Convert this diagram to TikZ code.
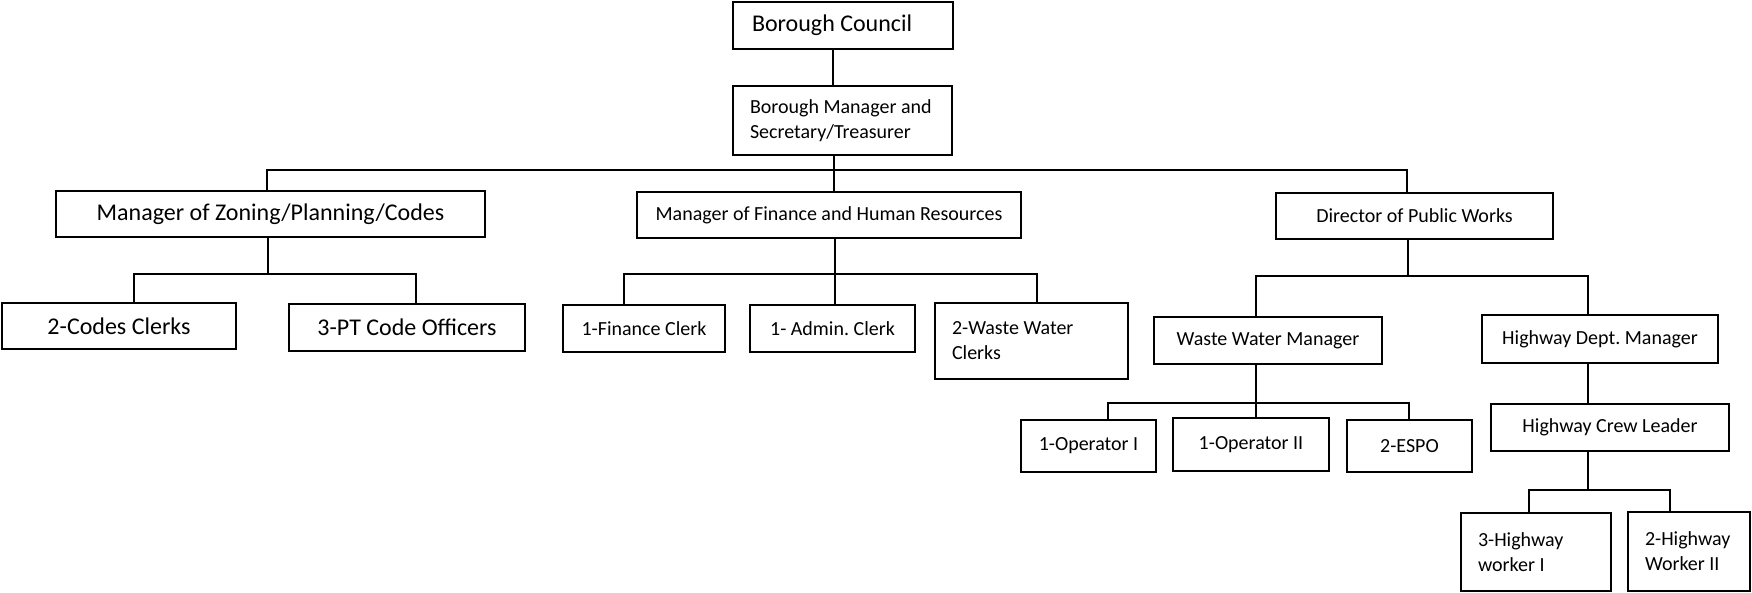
\documentclass[tikz,border=0pt]{standalone}
\usepackage{fontspec}
\setmainfont{Carlito}
\newcommand{\orgnode}[7]{\node[#1, minimum width={#4-#2}, minimum height={#5-#3}] (#6) at ({(#2+#4)/2},{(#3+#5)/2}) {#7};}
\begin{document}
\frenchspacing
\begin{tikzpicture}[x=1pt,y=-1pt,
  box/.style={draw=black, line width=1.6pt, inner sep=0pt, font=\fontsize{20}{25}\selectfont\frenchspacing, align=center},
  bigbox/.style={box, font=\fontsize{24}{29}\selectfont\frenchspacing},
  leftbox/.style={box, align=flush left, inner xsep=17pt, text width=#1},
  link/.style={draw=black, line width=1.4pt}]
\useasboundingbox[fill=white] (0,0) rectangle (1752,592);
\foreach \x in {134,267,268,416,624,833,834,835,1037,1108,1256,1407,1408,1409,1529,1588,1670}
  \coordinate (X\x) at (\x,0);

\orgnode{bigbox, align=flush left, inner xsep=19pt, text width=182pt}{733}{2}{953}{49}{bc}{\mbox{Borough Council}}
\orgnode{leftbox=185pt}{733}{86}{952}{155}{bm}{\mbox{Borough Manager and}\\\mbox{Secretary/Treasurer}}
\orgnode{bigbox}{56}{191}{485}{237}{mz}{Manager of Zoning/Planning/Codes}
\orgnode{box}{637}{192}{1021}{238}{mf}{Manager of Finance and Human Resources}
\orgnode{box}{1276}{193}{1553}{239}{dpw}{Director of Public Works}
\orgnode{bigbox}{2}{303}{236}{349}{cc}{2-Codes Clerks}
\orgnode{bigbox}{289}{304}{525}{351}{pt}{3-PT Code Officers}
\orgnode{box}{563}{305}{725}{352}{fc}{1-Finance Clerk}
\orgnode{box}{750}{305}{915}{352}{ac}{1- Admin. Clerk}
\orgnode{leftbox=159pt}{935}{303}{1128}{379}{wwc}{\mbox{2-Waste Water}\\\mbox{Clerks}}
\orgnode{box}{1154}{317}{1382}{364}{wwm}{Waste Water Manager}
\orgnode{box}{1482}{315}{1718}{363}{hdm}{Highway Dept. Manager}
\orgnode{box}{1021}{420}{1156}{472}{op1}{1-Operator I}
\orgnode{box}{1173}{418}{1329}{471}{op2}{1-Operator II}
\orgnode{box}{1347}{420}{1472}{472}{espo}{2-ESPO}
\orgnode{box}{1491}{404}{1729}{451}{hcl}{Highway Crew Leader}
\orgnode{leftbox=116pt}{1461}{513}{1611}{591}{hw1}{\mbox{3-Highway}\\\mbox{worker I}}
\orgnode{leftbox=88pt}{1628}{512}{1750}{591}{hw2}{\mbox{2-Highway}\\\mbox{Worker II}}

\draw[link] (X833 |- bc.south) -- (X833 |- bm.north);
\draw[link] (X834 |- bm.south) -- (X834 |- mf.north);
\draw[link] (X267 |- mz.north) -- (267,170) -- (1407,170) -- (X1407 |- dpw.north);
\draw[link] (X268 |- mz.south) -- (268,274);
\draw[link] (X134 |- cc.north) -- (134,274) -- (416,274) -- (X416 |- pt.north);
\draw[link] (X835 |- mf.south) -- (X835 |- ac.north);
\draw[link] (X624 |- fc.north) -- (624,274) -- (1037,274) -- (X1037 |- wwc.north);
\draw[link] (X1408 |- dpw.south) -- (1408,276);
\draw[link] (X1256 |- wwm.north) -- (1256,276) -- (1588,276) -- (X1588 |- hdm.north);
\draw[link] (X1256 |- wwm.south) -- (X1256 |- op2.north);
\draw[link] (X1108 |- op1.north) -- (1108,403) -- (1409,403) -- (X1409 |- espo.north);
\draw[link] (X1588 |- hdm.south) -- (X1588 |- hcl.north);
\draw[link] (X1588 |- hcl.south) -- (1588,490);
\draw[link] (X1529 |- hw1.north) -- (1529,490) -- (1670,490) -- (X1670 |- hw2.north);
\end{tikzpicture}
\end{document}
